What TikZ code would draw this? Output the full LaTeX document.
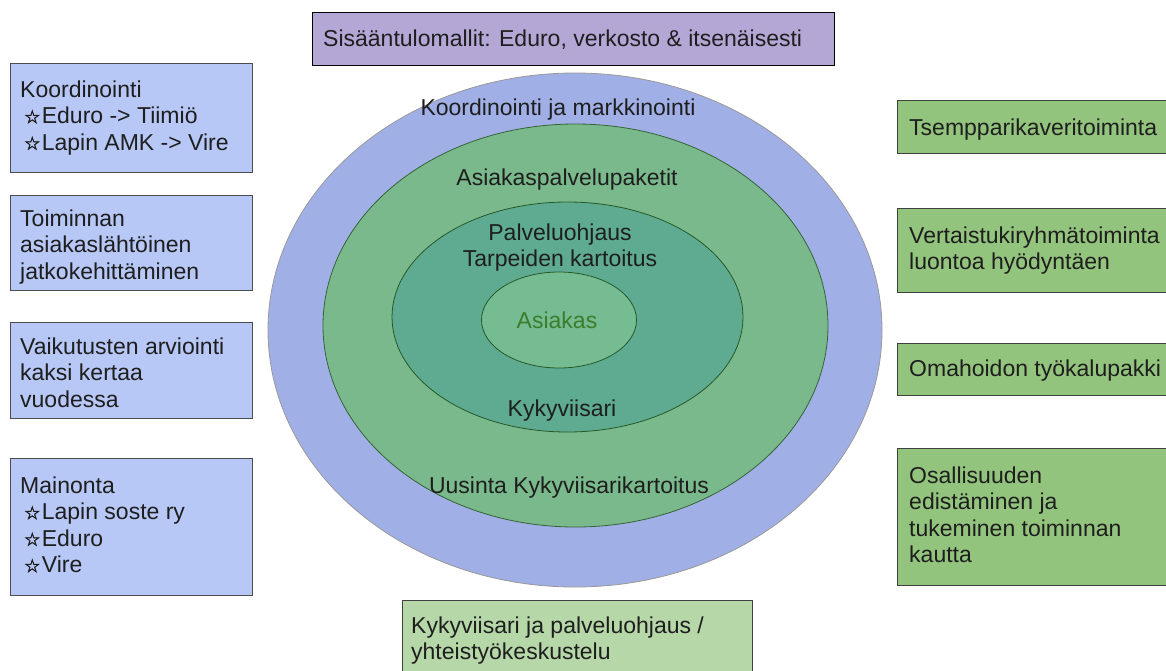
\documentclass[tikz,border=0pt]{standalone}
\usepackage{fontspec}
\setmainfont{Liberation Sans}
\newfontfamily\starfont[BoldFont=DejaVu Sans, BoldFeatures={FakeBold=2.5}]{DejaVu Sans}
\definecolor{topfill}{HTML}{B4A7D6}
\definecolor{bluefill}{HTML}{B8C8F6}
\definecolor{greenfill}{HTML}{93C47D}
\definecolor{palegreen}{HTML}{B6D7A8}
\definecolor{outerring}{HTML}{A0B0E6}
\definecolor{midring}{HTML}{7AB98C}
\definecolor{innerring}{HTML}{5EAB92}
\definecolor{corefill}{HTML}{76BC93}
\definecolor{coretext}{HTML}{3B7D2A}
\definecolor{ink}{HTML}{1E1E1E}
\newcommand{\bullstar}{\hspace*{4pt}\raisebox{0.5pt}{\starfont\bfseries\fontsize{18}{26}\selectfont ☆}\hspace{1.5pt}}
\newcommand{\firststrut}{\rule{0pt}{18pt}}
\begin{document}
\begin{tikzpicture}[x=1pt,y=-1pt,
  box/.style={draw=#1, line width=1.3pt, inner sep=0pt, anchor=north west},
  boxtext/.style={anchor=north west, inner sep=0pt, align=left, text=ink,
    font=\fontsize{23}{26.5}\selectfont},
  ringtext/.style={inner sep=0pt, align=center, text=ink,
    font=\fontsize{23}{26}\selectfont},
  ring/.style={draw=#1, line width=0.8pt}]
\useasboundingbox (0,0) rectangle (1166,670);
\clip (0,0) rectangle (1166,670);
\fill[white] (0,0) rectangle (1166,670);

% concentric rings of the service model
\filldraw[ring=gray!80, fill=outerring] (575,330) ellipse [x radius=307, y radius=257];
\filldraw[ring=gray!70!green!60!black, fill=midring] (575.5,325.5) ellipse [x radius=252.5, y radius=201.5];
\filldraw[ring=gray!60!green!50!black, fill=innerring] (567.5,317) ellipse [x radius=175.5, y radius=115];
\filldraw[ring=gray!60!green!50!black, fill=corefill] (559,320) ellipse [x radius=77.5, y radius=48];

\node[ringtext, anchor=base] (l1) at (558,115) {Koordinointi ja markkinointi};
\node[ringtext, anchor=base] (l2) at (567,185) {Asiakaspalvelupaketit};
\node[ringtext, anchor=north] (l3) at (560,222) {\firststrut Palveluohjaus\\Tarpeiden kartoitus};
\node[ringtext, anchor=base, text=coretext] (l4) at (557,328) {Asiakas};
\node[ringtext, anchor=base] (l5) at (562,416) {Kykyviisari};
\node[ringtext, anchor=base] (l6) at (569,493) {Uusinta Kykyviisarikartoitus};

% entry models
\node[box=black, fill=topfill, minimum width=522, minimum height=53] (top) at (312,12) {};
\node[boxtext] at ([shift={(11,16)}]top.north west) {\firststrut Sisääntulomallit: Eduro, verkosto \& itsenäisesti};

% left column
\node[box=gray!60!black, fill=bluefill, minimum width=242, minimum height=109] (b1) at (10,63) {};
\node[boxtext] at ([shift={(10,16)}]b1.north west) {\firststrut Koordinointi\\\bullstar Eduro -> Tiimiö\\\bullstar Lapin AMK -> Vire};

\node[box=gray!60!black, fill=bluefill, minimum width=242, minimum height=95] (b2) at (10,195) {};
\node[boxtext] at ([shift={(10,13)}]b2.north west) {\firststrut Toiminnan\\asiakaslähtöinen\\jatkokehittäminen};

\node[box=gray!60!black, fill=bluefill, minimum width=242, minimum height=96] (b3) at (10,322) {};
\node[boxtext] at ([shift={(10,14)}]b3.north west) {\firststrut Vaikutusten arviointi\\kaksi kertaa\\vuodessa};

\node[box=gray!60!black, fill=bluefill, minimum width=242, minimum height=137] (b4) at (10,458) {};
\node[boxtext] at ([shift={(10,17)}]b4.north west) {\firststrut Mainonta\\\bullstar Lapin soste ry\\\bullstar Eduro\\\bullstar Vire};

% right column
\node[box=gray!50!black, fill=greenfill, minimum width=290, minimum height=53] (g1) at (897,100) {};
\node[boxtext] at ([shift={(12,17)}]g1.north west) {\firststrut Tsempparikaveritoiminta};

\node[box=gray!50!black, fill=greenfill, minimum width=290, minimum height=84] (g2) at (897,208) {};
\node[boxtext] at ([shift={(12,17)}]g2.north west) {\firststrut Vertaistukiryhmätoiminta\\luontoa hyödyntäen};

\node[box=gray!50!black, fill=greenfill, minimum width=290, minimum height=52] (g3) at (897,343) {};
\node[boxtext] at ([shift={(12,15)}]g3.north west) {\firststrut Omahoidon työkalupakki};

\node[box=gray!50!black, fill=greenfill, minimum width=290, minimum height=137] (g4) at (897,448) {};
\node[boxtext] at ([shift={(12,17)}]g4.north west) {\firststrut Osallisuuden\\edistäminen ja\\tukeminen toiminnan\\kautta};

% bottom box
\node[box=gray!50!black, fill=palegreen, minimum width=350, minimum height=90] (bt) at (402,600) {};
\node[boxtext] at ([shift={(9,15)}]bt.north west) {\firststrut Kykyviisari ja palveluohjaus /\\yhteistyökeskustelu};
\end{tikzpicture}
\end{document}
